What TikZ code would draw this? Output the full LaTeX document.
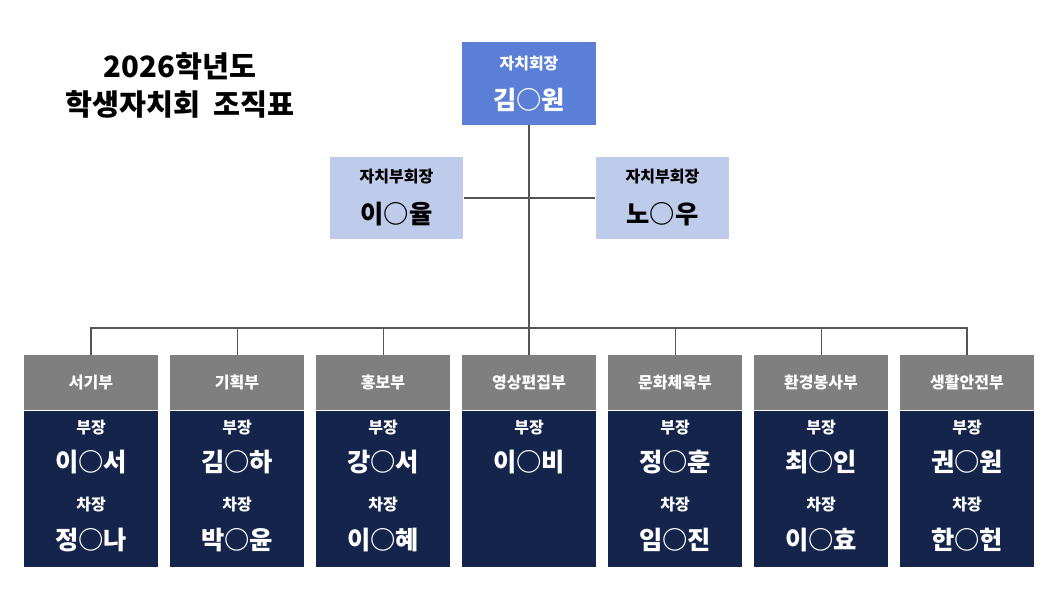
\documentclass[tikz,border=0pt]{standalone}
\usepackage{fontspec}
\setmainfont{Noto Sans CJK KR}
\usetikzlibrary{positioning}
\definecolor{presblue}{RGB}{91,127,214}
\definecolor{vpblue}{RGB}{191,203,234}
\definecolor{headgray}{RGB}{127,127,127}
\definecolor{navy}{RGB}{21,36,75}
\definecolor{linegray}{RGB}{85,85,85}
\tikzset{every picture/.style={line width=0.75pt}}
\tikzset{
  pbox/.style={fill=presblue,minimum width=100.5pt,minimum height=62pt,inner sep=0pt},
  vbox/.style={fill=vpblue,minimum width=100pt,minimum height=61.5pt,inner sep=0pt},
  headbox/.style={fill=headgray,minimum width=100.5pt,minimum height=41pt,inner sep=0pt,text=white,font=\fontsize{12}{12}\selectfont\bfseries},
  bodybox/.style={fill=navy,minimum width=100.5pt,minimum height=117pt,inner sep=0pt},
  roletext/.style={text=white,font=\fontsize{12}{12}\selectfont\bfseries},
  persontext/.style={text=white,font=\fontsize{19}{19}\selectfont\bfseries},
  bus/.style={draw=linegray,line width=2.2pt},
  dropline/.style={draw=linegray,line width=0.75pt}
}
\begin{document}
\begin{tikzpicture}[x=0.75pt,y=0.75pt,yscale=-1,xscale=1]
	\useasboundingbox (0,0) rectangle (1061,597);
	
	% Title
	\node (title1) at (180,66) {\fontsize{22}{22}\selectfont\bfseries 2026학년도};
	\node (title2) at (180,104) {\fontsize{22}{22}\selectfont\bfseries 학생자치회\ \ 조직표};
	
	% President and vice presidents
	\node[pbox] (pres) at (529,83.5) {};
	\node[roletext] (presrole) at (529,64) {자치회장};
	\node[persontext] (presname) at (529,100) {김○원};
	\node[vbox] (vpL) at (396.5,198) {};
	\node[font=\fontsize{12}{12}\selectfont\bfseries] (vpLrole) at (396.5,177) {자치부회장};
	\node[font=\fontsize{19}{19}\selectfont\bfseries] (vpLname) at (396.5,214) {이○율};
	\node[vbox] (vpR) at (662.5,198) {};
	\node[font=\fontsize{12}{12}\selectfont\bfseries] (vpRrole) at (662.5,177) {자치부회장};
	\node[font=\fontsize{19}{19}\selectfont\bfseries] (vpRname) at (662.5,214) {노○우};
	
	% Departments
	\foreach \i/\dname/\lead/\sub [count=\k] in {
	  91/서기부/이○서/정○나, 237/기획부/김○하/박○윤, 383/홍보부/강○서/이○혜,
	  529/영상편집부/이○비/, 675/문화체육부/정○훈/임○진, 821/환경봉사부/최○인/이○효,
	  967/생활안전부/권○원/한○헌}{
	  \node[headbox] (head\k) at (\i,382.5) {\dname};
	  \node[bodybox,below=0pt of head\k] (body\k) {};
	  \node[roletext] (lrole\k) at (\i,428) {부장};
	  \node[persontext] (lead\k) at (\i,462) {\lead};
	  \ifnum\k=4\else
	    \node[roletext] (srole\k) at (\i,505) {차장};
	    \node[persontext] (sub\k) at (\i,540) {\sub};
	  \fi
	}
	
	% Connectors
	\coordinate (hub) at (529,328);
	\draw[bus] (pres.south) -- (hub);
	\draw[bus] (vpL.east) -- (vpR.west);
	\draw[bus] (head1.north) -- (head1.north |- hub) -- (head7.north |- hub) -- (head7.north);
	\foreach \k in {2,3,5,6}
	  \draw[dropline] (head\k.north |- hub) -- (head\k.north);
	\draw[bus] (hub) -- (head4.north);
	
\end{tikzpicture}
\end{document}
